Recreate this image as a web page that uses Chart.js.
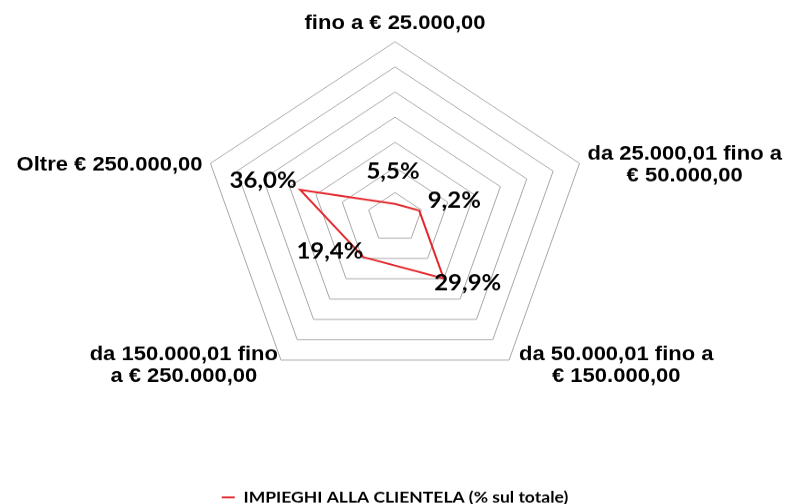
<!DOCTYPE html>
<html>
<head>
<meta charset="utf-8">
<script src="https://cdn.jsdelivr.net/npm/chart.js@4/dist/chart.umd.min.js"></script>
<style>
  html, body { margin: 0; padding: 0; background: #ffffff; overflow: hidden; width: 790px; height: 504px; }
  #c { display: block; transform: translateY(-49.9px) scaleY(0.9072); transform-origin: 0 0; }
</style>
</head>
<body>
<canvas id="c" width="790" height="622"></canvas>
<script>
// ---- data ----
const categories = [
  ['fino a € 25.000,00'],
  ['da 25.000,01 fino a', '€ 50.000,00'],
  ['da 50.000,01 fino a', '€ 150.000,00'],
  ['da 150.000,01 fino', 'a € 250.000,00'],
  ['Oltre € 250.000,00']
];
const values = [5.5, 9.2, 29.9, 19.4, 36.0];
const seriesName = 'IMPIEGHI ALLA CLIENTELA (% sul totale)';
const scaleMin = 0;
const scaleMax = 70;
const scaleStep = 10;

const fmt = v => v.toFixed(1).replace('.', ',') + '%';

// category labels drawn Excel-style around the outer polygon vertices
const categoryLabelsPlugin = {
  id: 'categoryLabels',
  afterDraw(chart) {
    const scale = chart.scales.r;
    const ctx = chart.ctx;
    const lineH = 24;
    ctx.save();
    ctx.font = 'bold 22px "Liberation Sans", Arial, sans-serif';
    ctx.fillStyle = '#000000';
    ctx.textAlign = 'center';
    ctx.textBaseline = 'alphabetic';
    categories.forEach((lines, i) => {
      const p = scale.getPointPosition(i, scale.drawingArea);
      const a = scale.getIndexAngle(i);
      const s = Math.sin(a), c = Math.cos(a);
      const w = Math.max(...lines.map(t => ctx.measureText(t).width));
      const n = lines.length;
      let cx, base0;
      if (c > 0.9) {
        cx = p.x;
        base0 = p.y - 14 - (n - 1) * lineH;
      } else if (c > -0.5) {
        const gap = 8;
        cx = s > 0 ? p.x + gap + w / 2 : p.x - gap - w / 2;
        base0 = p.y + 7.5 - (n - 1) / 2 * lineH;
      } else {
        cx = s > 0 ? p.x + 10 + w / 2 : p.x - 3 - w / 2;
        base0 = p.y;
      }
      lines.forEach((t, j) => ctx.fillText(t, cx, base0 + j * lineH));
    });
    ctx.restore();
  }
};

// data value labels
const valueLabelsPlugin = {
  id: 'valueLabels',
  afterDatasetsDraw(chart) {
    const ctx = chart.ctx;
    const meta = chart.getDatasetMeta(0);
    const dx = [-2, 35, 24, -33.5, -37];
    const dy = [-27.5, -3.3, 13.2, 1.1, -2.2];
    ctx.save();
    ctx.font = 'bold 24px Lato, "Open Sans", sans-serif';
    ctx.fillStyle = '#000000';
    ctx.textAlign = 'center';
    ctx.textBaseline = 'alphabetic';
    meta.data.forEach((pt, i) => {
      ctx.fillText(fmt(values[i]), pt.x + dx[i], pt.y + dy[i]);
    });
    ctx.restore();
  }
};

new Chart(document.getElementById('c'), {
  type: 'radar',
  data: {
    labels: categories,
    datasets: [{
      label: seriesName,
      data: values,
      borderColor: '#E3262B',
      backgroundColor: '#E3262B',
      borderWidth: 2,
      fill: false,
      pointRadius: 0,
      pointHoverRadius: 0,
      tension: 0
    }]
  },
  options: {
    responsive: false,
    animation: false,
    devicePixelRatio: 1,
    layout: { padding: { top: 0, left: 201, right: 201, bottom: 0 } },
    plugins: {
      legend: {
        display: true,
        position: 'bottom',
        labels: {
          usePointStyle: true,
          pointStyle: 'line',
          pointStyleWidth: 13,
          padding: 4,
          color: '#000000',
          font: { family: 'Lato', weight: 'bold', size: 17.5 }
        }
      },
      tooltip: { enabled: false }
    },
    scales: {
      r: {
        min: scaleMin,
        max: scaleMax,
        beginAtZero: true,
        ticks: { stepSize: scaleStep, display: false },
        grid: { color: '#a6a6a6', lineWidth: 1, circular: false },
        angleLines: { display: false },
        pointLabels: { display: false }
      }
    }
  },
  plugins: [categoryLabelsPlugin, valueLabelsPlugin]
});
</script>
</body>
</html>
